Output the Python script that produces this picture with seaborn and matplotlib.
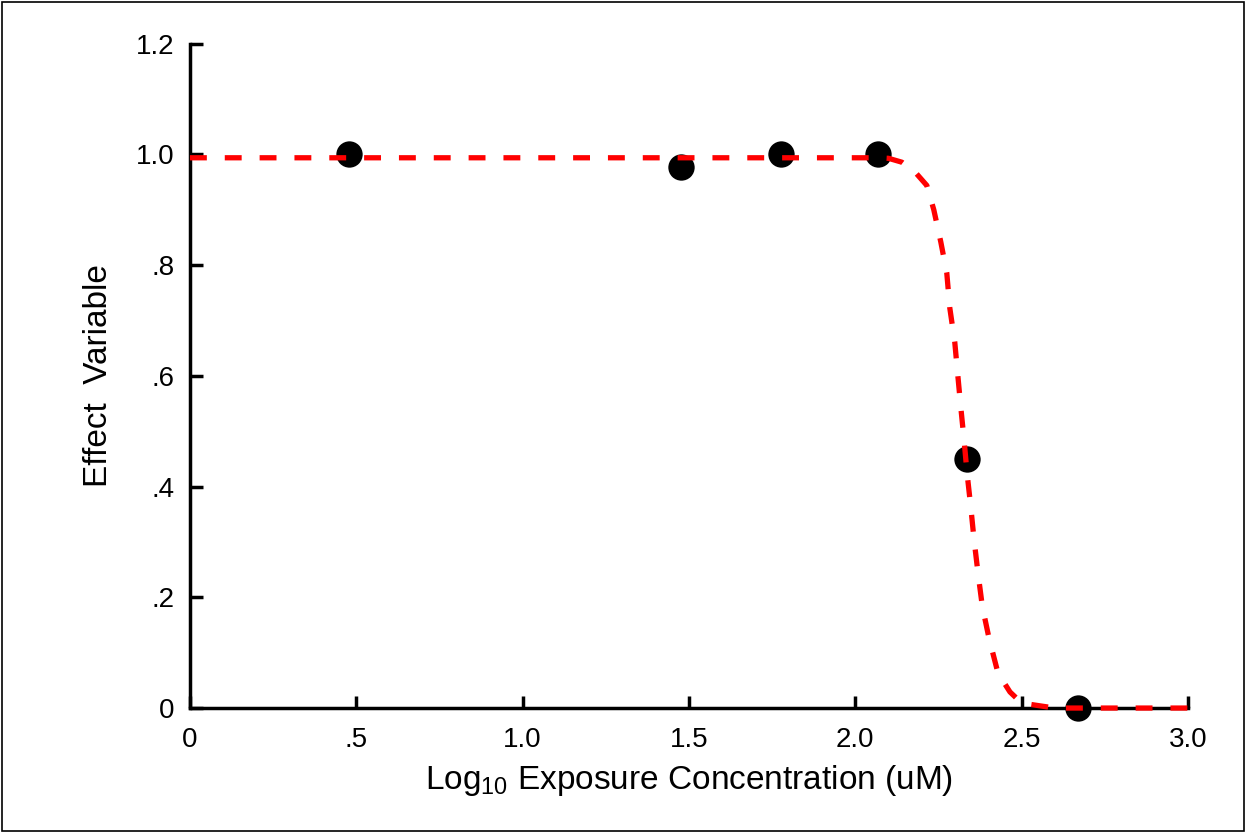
import matplotlib
matplotlib.use("Agg")
import matplotlib.pyplot as plt
import seaborn as sns
import pandas as pd
from matplotlib.patches import Rectangle

# observed points (log10 conc, effect)
obs_x = [0.477, 1.477, 1.778, 2.068, 2.336, 2.67]
obs_y = [1.0, 0.978, 1.0, 1.0, 0.45, 0.0]

# fitted curve
fit_x = [0.0, 0.5, 1.0, 1.5, 2.0, 2.07, 2.10, 2.14, 2.18, 2.215, 2.236, 2.257, 2.275,
         2.284, 2.299, 2.308, 2.317, 2.327, 2.336, 2.347, 2.357, 2.369, 2.382, 2.402,
         2.429, 2.465, 2.50, 2.555, 2.60, 3.0]
fit_y = [0.994, 0.994, 0.994, 0.994, 0.994, 0.994, 0.993, 0.986, 0.968, 0.944, 0.90,
         0.842, 0.786, 0.723, 0.661, 0.602, 0.544, 0.484, 0.424, 0.364, 0.304, 0.243,
         0.183, 0.126, 0.063, 0.029, 0.009, 0.004, 0.0, 0.0]

xticks = [0, 0.5, 1.0, 1.5, 2.0, 2.5, 3.0]
xtick_labels = ["0", ".5", "1.0", "1.5", "2.0", "2.5", "3.0"]
yticks = [0, 0.2, 0.4, 0.6, 0.8, 1.0, 1.2]
ytick_labels = ["0", ".2", ".4", ".6", ".8", "1.0", "1.2"]

sns.set_style("ticks")
plt.rcParams['font.family'] = ['Liberation Sans', 'DejaVu Sans']
plt.rcParams['mathtext.default'] = 'regular'
plt.rcParams['text.color'] = 'black'
plt.rcParams['axes.labelcolor'] = 'black'

fig = plt.figure(figsize=(12.48, 8.33), dpi=100)
ax = fig.add_axes([0.1522, 0.150, 0.7997, 0.7975])

obs_df = pd.DataFrame({'x': obs_x, 'y': obs_y})
fit_df = pd.DataFrame({'x': fit_x, 'y': fit_y})

sns.scatterplot(x='x', y='y', data=obs_df, ax=ax, color='black', s=360,
                edgecolor='black', linewidth=0, zorder=2, clip_on=False)
sns.lineplot(x='x', y='y', data=fit_df, ax=ax, color='#ff0000', lw=3.8,
             sort=False, zorder=3)
ax.lines[-1].set_dashes([3.2, 3.4])
ax.lines[-1].set_clip_on(False)

ax.set_xlim(0, 3.0)
ax.set_ylim(0, 1.2)
ax.set_xticks(xticks)
ax.set_xticklabels(xtick_labels)
ax.set_yticks(yticks)
ax.set_yticklabels(ytick_labels)
ax.tick_params(direction='in', length=9, width=2.5, labelsize=20, colors='black')
ax.tick_params(axis='x', pad=14)
ax.tick_params(axis='y', pad=11)
for sp in ['top', 'right']:
    ax.spines[sp].set_visible(False)
for sp in ['left', 'bottom']:
    ax.spines[sp].set_linewidth(2.5)
    ax.spines[sp].set_color('black')
    ax.spines[sp].set_zorder(1)

ax.set_xlabel('Log$_{10}$ Exposure Concentration (uM)', fontsize=24, labelpad=7)
ax.set_ylabel('Effect  Variable', fontsize=24, labelpad=16)

fig.patches.append(Rectangle((0.002, 0.003), 0.995, 0.994, transform=fig.transFigure,
                             fill=False, edgecolor='black', linewidth=1.2))

fig.savefig('out.png', dpi=100)
